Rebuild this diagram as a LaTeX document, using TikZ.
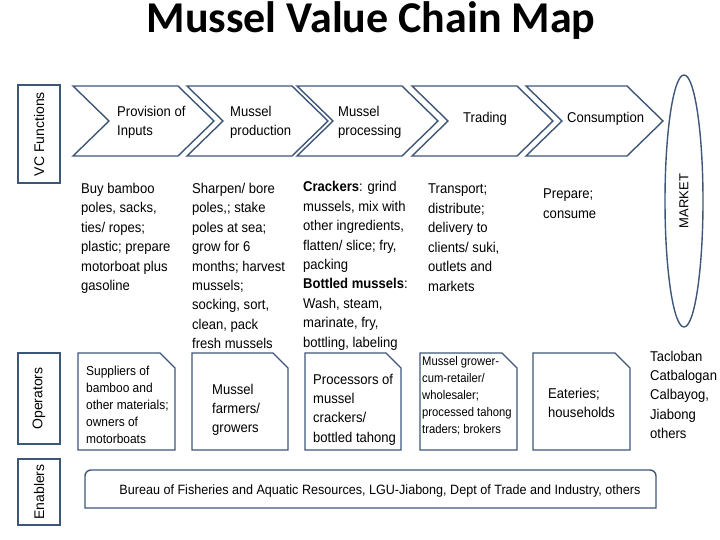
\documentclass[tikz,border=0pt]{standalone}
\usepackage{fontspec}
\setmainfont{Liberation Sans}
\newfontfamily\titlefont{Carlito}
\usepackage{graphicx}
\definecolor{edgec}{HTML}{3E5778}
\newcommand\lns[2][0.92]{\scalebox{#1}[1]{\begin{tabular}[t]{@{}l@{}}#2\end{tabular}}}
\tikzset{
  shapeline/.style={draw=edgec, line width=1.4pt, fill=white, line join=miter},
  sidebox/.style={draw=edgec, line width=1.4pt, minimum width=42pt, inner sep=0pt,
     font=\fontsize{14}{16}\selectfont},
  txt/.style={anchor=base west, inner sep=0pt, font=\fontsize{14.2}{19.4}\selectfont},
  smtxt/.style={anchor=base west, inner sep=0pt, font=\fontsize{13}{17.2}\selectfont},
  xstxt/.style={anchor=base west, inner sep=0pt, font=\fontsize{12.5}{17.2}\selectfont},
}
\begin{document}
\begin{tikzpicture}[x=1pt,y=-1pt]
\useasboundingbox (0,0) rectangle (720,540);
% title
\node[anchor=base, inner sep=0pt, font=\titlefont\bfseries\fontsize{44}{52}\selectfont] (title) at (371,33) {Mussel Value Chain Map};
% side labels
\node[sidebox, minimum height=98pt] (vc) at (39,134) {\rotatebox{90}{VC Functions}};
\node[sidebox, minimum height=91pt] (ops) at (39,398.5) {\rotatebox{90}{Operators}};
\node[sidebox, minimum height=66pt] (ena) at (39,492) {\rotatebox{90}{Enablers}};
% chevrons
\foreach \L/\R in {73/178, 187/292, 297/402, 412/517, 526/627}{
  \draw[shapeline] (\L,86) -- (\R,86) -- (\R+36,121) -- (\R,156) -- (\L,156) -- (\L+36,121) -- cycle;
}
\node[txt] (c1) at (117,116.5) {\lns{Provision of\\Inputs}};
\node[txt] (c2) at (230,116.5) {\lns{Mussel\\production}};
\node[txt] (c3) at (338,116.5) {\lns{Mussel\\processing}};
\node[txt] (c4) at (463,122.5) {\lns{Trading}};
\node[txt] (c5) at (567,122.5) {\lns{Consumption}};
% market ellipse
\draw[draw=edgec, line width=1.4pt] (684,201) ellipse [x radius=19, y radius=126];
\node[inner sep=0pt, font=\fontsize{13}{15}\selectfont] (market) at (684,201) {\rotatebox{90}{MARKET}};
% function descriptions
\node[txt] (d1) at (81,193.5) {\lns{Buy bamboo\\poles, sacks,\\ties/ ropes;\\plastic; prepare\\motorboat plus\\gasoline}};
\node[txt] (d2) at (192,193.5) {\lns{Sharpen/ bore\\poles,; stake\\poles at sea;\\grow for 6\\months; harvest\\mussels;\\socking, sort,\\clean, pack\\fresh mussels}};
\node[txt] (d3) at (303,192) {\lns{\textbf{Crackers}: grind\\mussels, mix with\\other ingredients,\\flatten/ slice; fry,\\packing\\\textbf{Bottled mussels}:\\Wash, steam,\\marinate, fry,\\bottling, labeling}};
\node[txt] (d4) at (428,194) {\lns{Transport;\\distribute;\\delivery to\\clients/ suki,\\outlets and\\markets}};
\node[txt] (d5) at (543,199) {\lns{Prepare;\\consume}};
% operator boxes
\foreach \L/\R in {78/175, 192/288, 305/401, 420/517, 533/630}{
  \draw[shapeline] (\L,353) -- (\R-15,353) -- (\R,368) -- (\R,450) -- (\L,450) -- cycle;
}
\node[smtxt] (o1) at (86,375) {\lns{Suppliers of\\bamboo and\\other materials;\\owners of\\motorboats}};
\node[txt] (o2) at (212,394) {\lns{Mussel\\farmers/\\growers}};
\node[txt] (o3) at (313,384) {\lns{Processors of\\mussel\\crackers/\\bottled tahong}};
\node[xstxt] (o4) at (422,365) {\lns[0.9]{Mussel grower-\\cum-retailer/\\wholesaler;\\processed tahong\\traders; brokers}};
\node[txt] (o5) at (548,398) {\lns{Eateries;\\households}};
\node[txt] (o6) at (650,361) {\lns{Tacloban\\Catbalogan\\Calbayog,\\Jiabong\\others}};
% enablers
\draw[shapeline] (85,508) -- (85,476) .. controls (85,472.7) and (87.7,470) .. (91,470) -- (650,470) .. controls (653.3,470) and (656,472.7) .. (656,476) -- (656,508) -- cycle;
\node[anchor=base, inner sep=0pt, font=\fontsize{13.5}{16}\selectfont] (en) at (380,494) {\resizebox{521pt}{\height}{Bureau of Fisheries and Aquatic Resources, LGU-Jiabong, Dept of Trade and Industry, others}};
\end{tikzpicture}
\end{document}
